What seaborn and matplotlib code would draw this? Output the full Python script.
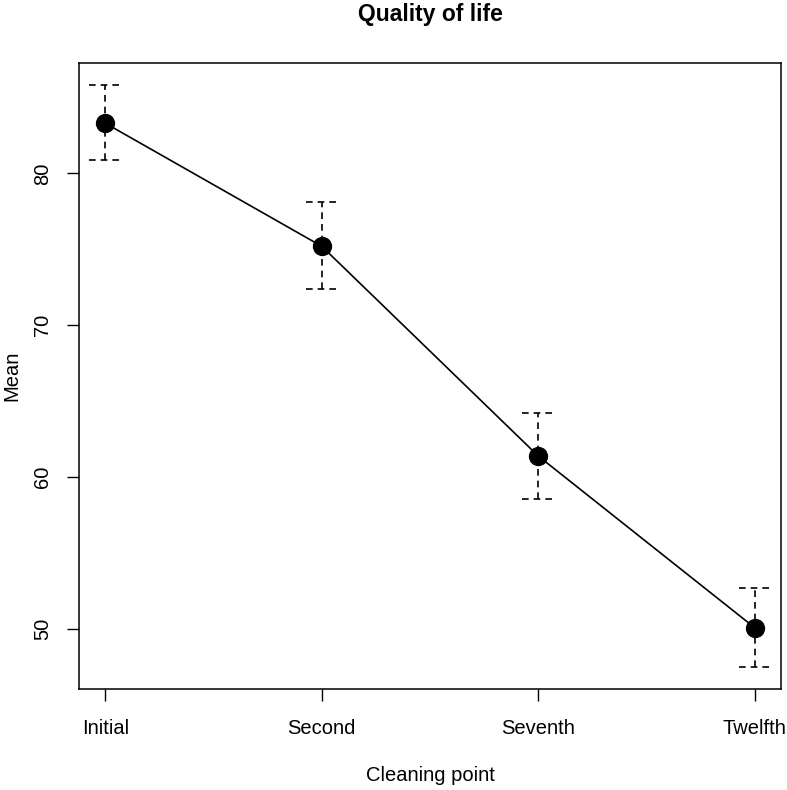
import pandas as pd
import numpy as np
import matplotlib
matplotlib.use("Agg")
import matplotlib.pyplot as plt
import seaborn as sns

# Veriler
points = ["Initial", "Second", "Seventh", "Twelfth"]
means = [83.3, 75.2, 61.4, 50.1]
lower = [80.9, 72.4, 58.6, 47.5]
upper = [85.8, 78.1, 64.2, 52.7]


def plot_quality(df):
    sns.set_style("ticks")
    plt.rcParams["font.family"] = ["Liberation Sans", "DejaVu Sans"]
    plt.rcParams["text.color"] = "black"
    plt.rcParams["axes.labelcolor"] = "black"

    fig = plt.figure(figsize=(7.87, 7.90), dpi=100)
    ax = fig.add_axes([0.1008, 0.1275, 0.8912, 0.7931])

    # hata çubukları (kesikli çizgi)
    xpos = np.arange(len(points))
    cap = 0.074
    ax.vlines(xpos, df["lower"], df["upper"], colors="black",
              linestyles=(0, (4, 3)), linewidth=1.2)
    ax.hlines(df["lower"], xpos - cap, xpos + cap, colors="black",
              linestyles=(0, (4, 3)), linewidth=1.2)
    ax.hlines(df["upper"], xpos - cap, xpos + cap, colors="black",
              linestyles=(0, (4, 3)), linewidth=1.2)

    sns.pointplot(data=df, x="point", y="mean", color="black",
                  errorbar=None, markers="o", markersize=13,
                  linewidth=1.2, ax=ax)

    ax.set_xlim(-0.12, 3.12)
    ax.set_ylim(46.05, 87.28)
    ax.set_yticks([50, 60, 70, 80])

    for s in ax.spines.values():
        s.set_visible(True)
        s.set_linewidth(1.1)
        s.set_color("black")

    ax.tick_params(axis="both", length=8.4, width=1.0, colors="black",
                   labelcolor="black", labelsize=14.5)
    ax.tick_params(axis="y", pad=11)
    ax.tick_params(axis="x", pad=13)
    plt.setp(ax.get_yticklabels(), rotation=90, va="center")

    ax.set_title("Quality of life", fontsize=16.5, fontweight="bold",
                 pad=30, color="black")
    ax.set_xlabel("Cleaning point", fontsize=14.5, labelpad=20)
    ax.set_ylabel("Mean", fontsize=14.5, labelpad=9)

    plt.savefig("out.png", dpi=100)
    plt.close(fig)


def main():
    df = pd.DataFrame({"point": points, "mean": means,
                       "lower": lower, "upper": upper})
    plot_quality(df)


if __name__ == "__main__":
    main()
